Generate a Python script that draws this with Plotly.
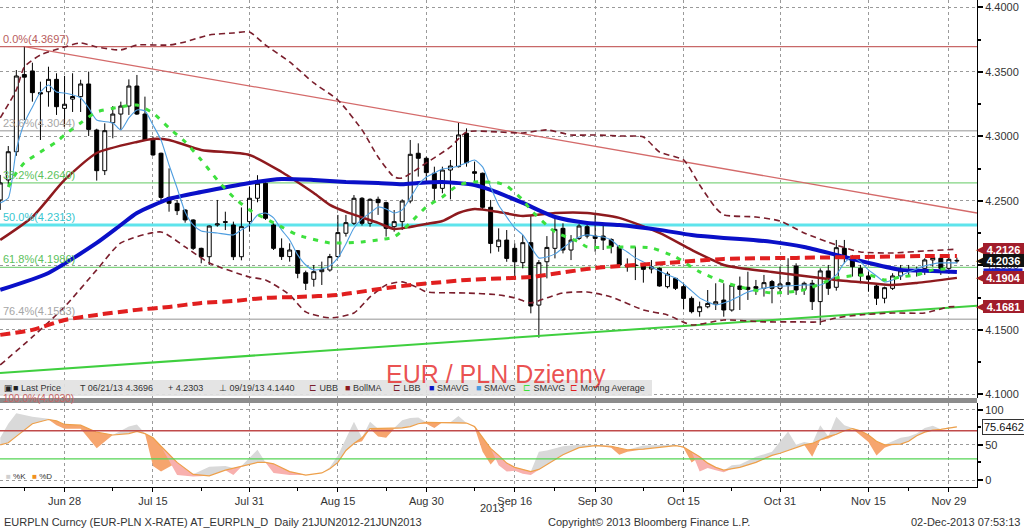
import numpy as np
import pandas as pd
import plotly.graph_objects as go

# ---------------- data ----------------
DATES = [d.strftime('%Y-%m-%d') for d in pd.bdate_range('2013-06-18', '2013-12-02')]

OPEN = [4.2508, 4.2663, 4.2882, 4.3480, 4.3508, 4.3340, 4.3347, 4.3443, 4.3218,
        4.3290, 4.3309, 4.3407, 4.3050, 4.2735, 4.3107, 4.3174, 4.3236, 4.3391, 4.3174,
        4.2973, 4.2870, 4.2528, 4.2482, 4.2430, 4.2353, 4.2133, 4.2068, 4.2314, 4.2340,
        4.2314, 4.2068, 4.2340, 4.2521, 4.2637, 4.2314, 4.2133, 4.2069, 4.2115, 4.1944,
        4.1893, 4.1952, 4.1965, 4.2069, 4.2250, 4.2327, 4.2521, 4.2327, 4.2513, 4.2487,
        4.2301, 4.2340, 4.2500, 4.2870, 4.2831, 4.2715, 4.2598, 4.2740, 4.2766, 4.3025,
        4.2727, 4.2715, 4.2451, 4.2146, 4.2197, 4.2133, 4.2022, 4.2177, 4.1693, 4.2029,
        4.2133, 4.2288, 4.2120, 4.2210, 4.2301, 4.2228, 4.2228, 4.2202, 4.2146, 4.1991,
        4.2004, 4.2004, 4.1973, 4.1978, 4.1836, 4.1900, 4.1836, 4.1745, 4.1642, 4.1680,
        4.1701, 4.1732, 4.1655, 4.1841, 4.1831, 4.1836, 4.1823, 4.1875, 4.1823, 4.1867,
        4.1996, 4.1815, 4.1862, 4.1720, 4.1958, 4.1831, 4.2133, 4.2056, 4.1978, 4.1919,
        4.1841, 4.1746, 4.1823, 4.1919, 4.1962, 4.1970, 4.1978, 4.2043, 4.2056, 4.1978,
        4.2040]
HIGH = [4.2702, 4.2926, 4.3515, 4.3697, 4.3572, 4.3425, 4.3541, 4.3490, 4.3470,
        4.3490, 4.3440, 4.3503, 4.3060, 4.3102, 4.3236, 4.3270, 4.3443, 4.3477, 4.3309,
        4.3000, 4.2875, 4.2753, 4.2508, 4.2435, 4.2358, 4.2138, 4.2310, 4.2508, 4.2417,
        4.2340, 4.2450, 4.2611, 4.2700, 4.2645, 4.2327, 4.2210, 4.2172, 4.2120, 4.1960,
        4.2004, 4.2030, 4.2090, 4.2392, 4.2392, 4.2546, 4.2530, 4.2520, 4.2534, 4.2495,
        4.2430, 4.2513, 4.2973, 4.2947, 4.2844, 4.2766, 4.2766, 4.2818, 4.3107, 4.3063,
        4.2805, 4.2720, 4.2508, 4.2288, 4.2275, 4.2172, 4.2236, 4.2391, 4.2042, 4.2228,
        4.2365, 4.2327, 4.2236, 4.2321, 4.2314, 4.2404, 4.2314, 4.2210, 4.2159, 4.2055,
        4.2146, 4.2017, 4.2042, 4.1985, 4.1952, 4.1905, 4.1860, 4.1760, 4.1720, 4.1810,
        4.1862, 4.1862, 4.1862, 4.1914, 4.1952, 4.1888, 4.1927, 4.1888, 4.1991, 4.2056,
        4.2017, 4.1875, 4.1888, 4.1978, 4.2004, 4.2198, 4.2198, 4.2082, 4.2004, 4.1952,
        4.1862, 4.1836, 4.1940, 4.2004, 4.2004, 4.1991, 4.2056, 4.2082, 4.2069, 4.2064,
        4.2061]
LOW = [4.2431, 4.2611, 4.2850, 4.3128, 4.3270, 4.2973, 4.3231, 4.3167, 4.3076,
       4.3190, 4.3190, 4.3004, 4.2658, 4.2701, 4.2986, 4.3050, 4.3167, 4.3167, 4.2970,
       4.2850, 4.2503, 4.2417, 4.2391, 4.2332, 4.2120, 4.2017, 4.2004, 4.2301, 4.2275,
       4.2042, 4.2040, 4.2262, 4.2490, 4.2353, 4.2120, 4.2043, 4.2030, 4.1901, 4.1810,
       4.1836, 4.1849, 4.1952, 4.2056, 4.2224, 4.2314, 4.2310, 4.2300, 4.2392, 4.2224,
       4.2262, 4.2275, 4.2482, 4.2689, 4.2650, 4.2495, 4.2560, 4.2513, 4.2760, 4.2766,
       4.2650, 4.2430, 4.2094, 4.2107, 4.2029, 4.1887, 4.1978, 4.1629, 4.1440, 4.1900,
       4.2055, 4.2094, 4.2042, 4.2197, 4.2210, 4.2107, 4.2120, 4.2094, 4.1991, 4.1952,
       4.1887, 4.1867, 4.1939, 4.1836, 4.1823, 4.1810, 4.1660, 4.1629, 4.1603, 4.1668,
       4.1655, 4.1603, 4.1642, 4.1655, 4.1733, 4.1772, 4.1759, 4.1707, 4.1785, 4.1772,
       4.1772, 4.1772, 4.1655, 4.1539, 4.1772, 4.1805, 4.2017, 4.1914, 4.1862, 4.1797,
       4.1694, 4.1707, 4.1810, 4.1888, 4.1927, 4.1914, 4.1927, 4.1991, 4.1927, 4.1935,
       4.2017]
CLOSE = [4.2640, 4.2882, 4.3469, 4.3460, 4.3340, 4.3330, 4.3443, 4.3231, 4.3250,
         4.3310, 4.3407, 4.3055, 4.2735, 4.3045, 4.3174, 4.3236, 4.3391, 4.3174, 4.2973,
         4.2857, 4.2528, 4.2482, 4.2425, 4.2353, 4.2133, 4.2068, 4.2306, 4.2322, 4.2335,
         4.2068, 4.2301, 4.2521, 4.2637, 4.2366, 4.2133, 4.2069, 4.2120, 4.1939, 4.1862,
         4.1952, 4.1970, 4.2069, 4.2255, 4.2332, 4.2521, 4.2327, 4.2513, 4.2487, 4.2288,
         4.2340, 4.2500, 4.2862, 4.2831, 4.2720, 4.2598, 4.2740, 4.2771, 4.3012, 4.2797,
         4.2715, 4.2451, 4.2171, 4.2197, 4.2055, 4.2029, 4.2177, 4.1686, 4.2022, 4.2140,
         4.2280, 4.2120, 4.2197, 4.2306, 4.2228, 4.2210, 4.2197, 4.2146, 4.2004, 4.2004,
         4.2000, 4.1970, 4.1990, 4.1841, 4.1934, 4.1823, 4.1745, 4.1642, 4.1680, 4.1706,
         4.1719, 4.1655, 4.1848, 4.1815, 4.1815, 4.1823, 4.1867, 4.1823, 4.1857, 4.1850,
         4.1810, 4.1862, 4.1720, 4.1958, 4.1823, 4.2138, 4.2069, 4.1991, 4.1919, 4.1893,
         4.1746, 4.1828, 4.1919, 4.1958, 4.1955, 4.1960, 4.2043, 4.2061, 4.1978, 4.2048,
         4.2036]

# studies: (trading-day index, value)
BLUE_IDX = [0, 6, 12, 15, 17, 21, 25, 31, 35, 39, 43, 47, 50, 52, 55, 59, 61, 65, 69, 73,
            77, 82, 86, 90, 92, 96, 100, 104, 108, 112, 116, 119]
BLUE_VAL = [4.1811, 4.1942, 4.2175, 4.2314, 4.2407, 4.2516, 4.2570, 4.2640, 4.2671, 4.2663,
            4.2648, 4.2640, 4.2630, 4.2640, 4.2648, 4.2624, 4.2586, 4.2485, 4.2376, 4.2330,
            4.2314, 4.2276, 4.2237, 4.2214, 4.2206, 4.2183, 4.2144, 4.2082, 4.2020, 4.1966,
            4.1958, 4.1950]
BOLL_IDX = [0, 4, 8, 12, 17, 19, 21, 25, 31, 35, 36, 39, 41, 43, 47, 49, 51, 53, 55, 57,
            59, 62, 65, 69, 73, 77, 82, 86, 90, 92, 96, 100, 104, 108, 111, 114, 119]
BOLL_VAL = [4.2198, 4.2376, 4.2663, 4.2872, 4.2958, 4.2981, 4.2973, 4.2896, 4.2857, 4.2725,
            4.2686, 4.2562, 4.2470, 4.2415, 4.2330, 4.2283, 4.2299, 4.2322, 4.2345, 4.2407,
            4.2438, 4.2415, 4.2384, 4.2407, 4.2407, 4.2369, 4.2252, 4.2121, 4.2004, 4.1981,
            4.1950, 4.1919, 4.1888, 4.1865, 4.1849, 4.1865, 4.1904]
UBB_IDX = [0, 2, 3, 5, 8, 10, 12, 15, 17, 21, 23, 26, 29, 31, 33, 36, 39, 42, 45, 47,
           49, 50, 53, 56, 58, 62, 65, 68, 71, 74, 77, 80, 82, 85, 87, 89, 90, 94, 97, 100,
           104, 107, 111, 115, 119]
UBB_VAL = [4.3144, 4.3361, 4.3539, 4.3632, 4.3694, 4.3725, 4.3694, 4.3671, 4.3709, 4.3709,
           4.3733, 4.3787, 4.3802, 4.3810, 4.3709, 4.3578, 4.3415, 4.3283, 4.3051, 4.2841,
           4.2686, 4.2678, 4.2795, 4.2919, 4.3035, 4.3035, 4.3027, 4.3051, 4.3012, 4.3012,
           4.3004, 4.2996, 4.2880, 4.2818, 4.2624, 4.2446, 4.2392, 4.2376, 4.2345, 4.2252,
           4.2159, 4.2105, 4.2097, 4.2113, 4.2126]
LBB_IDX = [0, 4, 8, 12, 15, 20, 23, 26, 31, 33, 36, 38, 41, 44, 46, 48, 50, 52, 53, 58,
           62, 64, 66, 68, 70, 73, 76, 80, 83, 86, 90, 95, 99, 102, 104, 107, 111, 115, 118, 119]
LBB_VAL = [4.1229, 4.1446, 4.1679, 4.1966, 4.2175, 4.2260, 4.2144, 4.2020, 4.1911, 4.1888,
           4.1772, 4.1640, 4.1594, 4.1632, 4.1756, 4.1849, 4.1873, 4.1826, 4.1795, 4.1787,
           4.1772, 4.1749, 4.1710, 4.1749, 4.1787, 4.1795, 4.1756, 4.1655, 4.1617, 4.1539,
           4.1578, 4.1563, 4.1563, 4.1563, 4.1594, 4.1617, 4.1632, 4.1632, 4.1679, 4.1681]
MA_IDX = [0, 4, 8, 12, 17, 21, 25, 29, 33, 37, 42, 49, 58, 66, 74, 83, 90, 99, 107, 115, 119]
MA_VAL = [4.1462, 4.1501, 4.1578, 4.1617, 4.1656, 4.1679, 4.1710, 4.1725, 4.1749, 4.1756,
          4.1772, 4.1834, 4.1888, 4.1911, 4.1981, 4.2020, 4.2051, 4.2059, 4.2066, 4.2074, 4.2074]
GREEN_IDX = [1, 2, 3, 5, 7, 8, 10, 12, 15, 17, 19, 21, 23, 25, 27, 29, 31, 35, 37, 41,
             45, 47, 49, 51, 53, 55, 57, 59, 62, 63, 65, 66, 69, 72, 73, 77, 81, 84, 87, 90,
             92, 96, 100, 104, 108, 110, 112, 114, 116, 118]
GREEN_VAL = [4.2609, 4.2717, 4.2795, 4.2880, 4.2958, 4.3012, 4.3105, 4.3190, 4.3229, 4.3244,
             4.3182, 4.3066, 4.2958, 4.2818, 4.2663, 4.2531, 4.2431, 4.2299, 4.2237, 4.2175,
             4.2183, 4.2198, 4.2221, 4.2330, 4.2454, 4.2531, 4.2624, 4.2648, 4.2640, 4.2617,
             4.2508, 4.2431, 4.2260, 4.2183, 4.2144, 4.2144, 4.2136, 4.2066, 4.1950, 4.1873,
             4.1834, 4.1787, 4.1811, 4.1903, 4.1927, 4.1888, 4.1911, 4.1927, 4.1966, 4.1973]
LB_IDX = [0, 1, 2, 3, 4, 5, 6, 7, 8, 10, 11, 12, 14, 15, 16, 17, 18, 19, 20, 21,
          22, 23, 24, 25, 27, 29, 30, 31, 32, 33, 34, 35, 36, 37, 38, 39, 40, 41, 42, 43,
          44, 45, 46, 47, 48, 49, 50, 51, 52, 53, 54, 55, 56, 57, 58, 59, 60, 61, 62, 63,
          64, 65, 66, 67, 68, 69, 70, 71, 72, 73, 74, 75, 76, 77, 78, 79, 80, 81, 82, 83,
          84, 85, 86, 87, 88, 89, 90, 91, 92, 93, 94, 96, 98, 100, 102, 103, 104, 105, 106, 107,
          108, 109, 110, 111, 112, 113, 114, 115, 116, 117, 118, 119]
LB_VAL = [4.2485, 4.2523, 4.2896, 4.3105, 4.3229, 4.3345, 4.3399, 4.3345, 4.3337, 4.3299,
          4.3221, 4.3128, 4.3105, 4.3051, 4.3144, 4.3206, 4.3198, 4.3089, 4.2973, 4.2779,
          4.2601, 4.2415, 4.2314, 4.2268, 4.2252, 4.2237, 4.2276, 4.2314, 4.2392, 4.2407,
          4.2369, 4.2276, 4.2198, 4.2082, 4.2004, 4.1966, 4.1973, 4.1997, 4.2059, 4.2167,
          4.2291, 4.2361, 4.2407, 4.2454, 4.2438, 4.2407, 4.2431, 4.2523, 4.2624, 4.2686,
          4.2717, 4.2748, 4.2756, 4.2771, 4.2795, 4.2818, 4.2764, 4.2609, 4.2469, 4.2376,
          4.2291, 4.2237, 4.2144, 4.2059, 4.2066, 4.2090, 4.2136, 4.2183, 4.2221, 4.2237,
          4.2229, 4.2221, 4.2198, 4.2144, 4.2105, 4.2059, 4.2028, 4.1989, 4.1958, 4.1927,
          4.1903, 4.1857, 4.1803, 4.1749, 4.1718, 4.1694, 4.1710, 4.1733, 4.1764, 4.1795,
          4.1811, 4.1834, 4.1842, 4.1849, 4.1849, 4.1880, 4.1927, 4.2020, 4.2066, 4.2028,
          4.1966, 4.1919, 4.1873, 4.1888, 4.1919, 4.1950, 4.1973, 4.1997, 4.2012, 4.2020,
          4.2020, 4.2020]

# trend lines (index, value)
TREND_DOWN_IDX = [3, 121.5]
TREND_DOWN_VAL = [4.3697, 4.2407]
TREND_UP_IDX = [-0.03, 121.5]
TREND_UP_VAL = [4.1167, 4.1687]

# fibonacci retracement
FIB_PCT = ['0.0%', '23.6%', '38.2%', '50.0%', '61.8%', '76.4%', '100.0%']
FIB_LEVEL = [4.3697, 4.3044, 4.2640, 4.2313, 4.1986, 4.1583, 4.0930]

# stochastics
STO_IDX = [0, 1, 2, 4, 6, 7, 8, 10, 12, 14, 16, 17, 18, 19, 20, 22, 24, 26, 28, 29,
           30, 32, 33, 34, 36, 38, 40, 41, 42, 43, 44, 45, 46, 47, 48, 49, 50, 51, 52, 53,
           54, 55, 56, 57, 58, 59, 60, 61, 62, 63, 64, 65, 66, 67, 68, 70, 72, 74, 76, 77,
           78, 80, 82, 84, 85, 86, 87, 88, 89, 90, 91, 92, 94, 96, 97, 98, 99, 100, 101, 102,
           103, 104, 105, 106, 107, 108, 109, 110, 111, 112, 113, 114, 115, 116, 117, 118, 119]
STO_K = [60, 80, 95, 90, 87, 78, 73, 73, 45, 64, 76, 79, 66, 20, 12, 7, 5, 19, 20, 7,
         19, 43, 25, 10, 7, 7, 10, 18, 35, 60, 83, 55, 83, 62, 60, 74, 85, 88, 89, 80,
         74, 82, 82, 91, 81, 75, 40, 22, 21, 12, 13, 9, 7, 40, 42, 48, 50, 50, 46, 36,
         40, 49, 50, 50, 46, 25, 12, 17, 14, 11, 21, 22, 33, 40, 55, 69, 50, 54, 33, 78,
         59, 90, 78, 74, 64, 54, 35, 46, 55, 60, 62, 66, 74, 77, 72, 75, 76]
STO_D = [50, 53, 62, 80, 86, 84, 79, 78, 68, 64, 66, 69, 66, 60, 48, 25, 8, 6, 14, 17,
         20, 25, 25, 23, 12, 7, 10, 16, 25, 42, 52, 60, 73, 73, 73, 73, 74, 76, 80, 82,
         82, 82, 82, 82, 81, 76, 60, 45, 35, 24, 18, 15, 12, 15, 22, 36, 46, 49, 48, 45,
         43, 44, 47, 49, 47, 40, 33, 24, 18, 14, 16, 18, 25, 35, 38, 42, 47, 50, 52, 57,
         62, 65, 70, 73, 70, 64, 55, 50, 50, 51, 55, 63, 68, 71, 72, 74, 75.6462]

TICK_DATES = ['2013-06-28', '2013-07-15', '2013-07-31', '2013-08-15', '2013-08-30', '2013-09-16',
              '2013-09-30', '2013-10-15', '2013-10-31', '2013-11-15', '2013-11-29']
TICK_TEXT = ['Jun 28', 'Jul 15', 'Jul 31', 'Aug 15', 'Aug 30', 'Sep 16',
             'Sep 30', 'Oct 15', 'Oct 31', 'Nov 15', 'Nov 29']
MINOR_DATES = ['2013-06-21', '2013-07-08', '2013-07-23', '2013-08-08', '2013-08-23', '2013-09-09',
               '2013-09-23', '2013-10-08', '2013-10-23', '2013-11-07', '2013-11-22']
PRICE_TICKS = [4.10, 4.15, 4.20, 4.25, 4.30, 4.35, 4.40]

# ---------------- layout helpers ----------------
W, H = 1024, 530
ML, MR, MT, MB = 0, 47, 0, 43
PW, PH = W - ML - MR, H - MT - MB


def py(ypx):
    return (PH - (ypx - MT)) / PH


def pxp(xpx):
    return (xpx - ML) / PW


pos = {d: i for i, d in enumerate(DATES)}
X = list(range(len(DATES)))
TICK_IDX = [pos[d] for d in TICK_DATES]
MINOR_IDX = [pos[d] for d in MINOR_DATES]
FONT = 'Liberation Sans, Arial, sans-serif'

fig = go.Figure()

# trend lines
fig.add_trace(go.Scatter(x=TREND_UP_IDX, y=TREND_UP_VAL, mode='lines',
                         line=dict(color='#3fcf3f', width=2), hoverinfo='skip', showlegend=False))
fig.add_trace(go.Scatter(x=TREND_DOWN_IDX, y=TREND_DOWN_VAL, mode='lines',
                         line=dict(color='#d46a6a', width=1.3), hoverinfo='skip', showlegend=False))

# candles
fig.add_trace(go.Candlestick(
    x=X, open=OPEN, high=HIGH, low=LOW, close=CLOSE,
    increasing=dict(line=dict(color='black', width=1), fillcolor='white'),
    decreasing=dict(line=dict(color='black', width=1), fillcolor='black'),
    whiskerwidth=0, hoverinfo='skip', showlegend=False))


def study(idx, val, color, width, dash='solid'):
    fig.add_trace(go.Scatter(x=idx, y=val, mode='lines',
                             line=dict(color=color, width=width, dash=dash, shape='spline', smoothing=0.6),
                             hoverinfo='skip', showlegend=False))


study(UBB_IDX, UBB_VAL, '#7a1e2c', 1.6, '6px,4px')
study(LBB_IDX, LBB_VAL, '#7a1e2c', 1.6, '6px,4px')
study(BOLL_IDX, BOLL_VAL, '#8e1a1e', 2.5)
study(BLUE_IDX, BLUE_VAL, '#0a10c8', 4)
study(LB_IDX, LB_VAL, '#4f9ee0', 1.1)
study(GREEN_IDX, GREEN_VAL, '#3ee03e', 3, '5px,7px')
study(MA_IDX, MA_VAL, '#e11f1f', 4, '10px,5px')

# stochastics panel
K = np.array(STO_K, dtype=float)
D = np.array(STO_D, dtype=float)
upper = np.maximum(K, D)
lower = np.minimum(K, D)
low_orange = np.where(D >= 40, lower, D)
low_pink = np.where(D < 40, lower, D)
for series, col in [(upper, '#d9d9d9'), (low_orange, '#f6a56e'), (low_pink, '#f8b0ae')]:
    fig.add_trace(go.Scatter(x=STO_IDX, y=D, mode='lines', line=dict(width=0), xaxis='x2', yaxis='y2',
                             hoverinfo='skip', showlegend=False))
    fig.add_trace(go.Scatter(x=STO_IDX, y=series, mode='lines', line=dict(width=0), fill='tonexty',
                             fillcolor=col, xaxis='x2', yaxis='y2', hoverinfo='skip', showlegend=False))
fig.add_trace(go.Scatter(x=STO_IDX, y=D, mode='lines', line=dict(color='#eea04a', width=1.2),
                         xaxis='x2', yaxis='y2', hoverinfo='skip', showlegend=False))

shapes = []
# fibonacci lines
FIB_LINE_COL = ['#c86868', '#b8b8b8', '#82d482', '#5ee4ec', '#82d482', '#b8b8b8', '#c86868']
FIB_LINE_W = [1.2, 1.5, 1.2, 3, 1.2, 1.5, 1.2]
FIB_TXT_COL = ['#b85c5c', '#a6a6a6', '#5cc25c', '#38c6d0', '#5cc25c', '#a6a6a6', '#c86464']
for lvl, c, w in zip(FIB_LEVEL[:-1], FIB_LINE_COL[:-1], FIB_LINE_W[:-1]):
    shapes.append(dict(type='line', xref='x', yref='y', x0=-0.03, x1=121.5, y0=lvl, y1=lvl,
                       line=dict(color=c, width=w), layer='between'))
# stochastic levels
shapes.append(dict(type='line', xref='x2', yref='y2', x0=-0.03, x1=121.5, y0=70, y1=70,
                   line=dict(color='#c04a4a', width=1.3), layer='above'))
shapes.append(dict(type='line', xref='x2', yref='y2', x0=-0.03, x1=121.5, y0=30, y1=30,
                   line=dict(color='#55d455', width=1.3), layer='above'))
# separator bar
shapes.append(dict(type='rect', xref='paper', yref='paper', x0=0, x1=1, y0=py(403), y1=py(398),
                   fillcolor='#8c8c8c', line=dict(width=0), layer='above'))
# legend band
shapes.append(dict(type='rect', xref='paper', yref='paper', x0=0, x1=pxp(652), y0=py(396), y1=py(380),
                   fillcolor='rgba(226,226,226,0.92)', line=dict(width=0), layer='above'))

ann = []
# fib labels
for pct, lvl, c in zip(FIB_PCT[:-1], FIB_LEVEL[:-1], FIB_TXT_COL[:-1]):
    ann.append(dict(text=f'{pct}({lvl:.4f})', xref='paper', x=pxp(1), xanchor='left',
                    yref='y', y=lvl, yanchor='bottom', showarrow=False,
                    font=dict(size=11, color=c, family=FONT)))
ann.append(dict(text=f'{FIB_PCT[-1]}({FIB_LEVEL[-1]:.4f})', xref='paper', x=pxp(1), xanchor='left',
                yref='paper', y=py(398), yanchor='middle', showarrow=False,
                font=dict(size=10, color=FIB_TXT_COL[-1], family=FONT)))

# title
ann.append(dict(text='EUR / PLN Dzienny', xref='paper', yref='paper', x=pxp(496), y=py(374),
                xanchor='center', yanchor='middle', showarrow=False,
                font=dict(size=25, color='rgba(232,58,58,0.88)', family=FONT)))

# legend row: (x, icon, icon colour, label)
LEG = [(3, '▣■', '#222', 'Last Price'),
       (79, 'T', '#333', '06/21/13 4.3696'),
       (167, '+', '#333', '4.2303'),
       (218, '⊥', '#333', '09/19/13 4.1440'),
       (308, '⊏', '#7a1e2c', 'UBB'),
       (344, '■', '#8e1a1e', 'BollMA'),
       (392, '⊏', '#7a1e2c', 'LBB'),
       (428, '■', '#0a10c8', 'SMAVG'),
       (475, '■', '#4f9ee0', 'SMAVG'),
       (522, '⊏', '#3ee03e', 'SMAVG'),
       (569, '⊏', '#e11f1f', 'Moving Average')]
for xp, icon, c, label in LEG:
    ann.append(dict(text=f'<span style="color:{c}">{icon}</span> {label}', xref='paper', yref='paper',
                    x=pxp(xp), y=py(388), xanchor='left', yanchor='middle', showarrow=False,
                    borderpad=0, font=dict(size=9, color='#333', family=FONT)))

# stochastic legend
ann.append(dict(text='<span style="color:#d0d0d0">■</span> %K \u00a0 <span style="color:#f0901e">■</span> %D',
                xref='paper', yref='paper', x=pxp(5), y=py(476), xanchor='left', yanchor='middle',
                showarrow=False, borderpad=0, font=dict(size=8, color='#333', family=FONT)))

# right-hand value boxes (blue SMAVG box is mostly hidden behind the others)
ann.append(dict(text='\u00a0', xref='paper', x=pxp(983), xanchor='left', yref='y', y=4.1958,
                yanchor='middle', showarrow=False, bgcolor='#1a22cc', borderpad=0,
                width=38, height=4, font=dict(size=2, color='#1a22cc')))
LABELS = [(4.2126, '#a11d2b'), (4.2036, '#111111'), (4.1904, '#a11d2b'), (4.1681, '#a11d2b')]
for v, bg in LABELS:
    ann.append(dict(text='◀', xref='paper', x=pxp(975), xanchor='left', yref='y', y=v,
                    yanchor='middle', showarrow=False, borderpad=0,
                    font=dict(size=11, color=bg, family='DejaVu Sans')))
    ann.append(dict(text=f'<b>{v:.4f}</b>', xref='paper', x=pxp(983), xanchor='left', yref='y', y=v,
                    yanchor='middle', showarrow=False, bgcolor=bg, bordercolor=bg, borderpad=0,
                    width=39, height=11, font=dict(size=11, color='white', family=FONT)))
ann.append(dict(text=f'{STO_D[-1]:.4f}', xref='paper', x=pxp(982), xanchor='left', yref='y2', y=STO_D[-1],
                yanchor='middle', showarrow=False, bgcolor='white', bordercolor='#333', borderwidth=1,
                borderpad=1, font=dict(size=11, color='#111', family=FONT)))

# footer texts
ann.append(dict(text='2013', xref='paper', yref='paper', x=pxp(492), y=py(508), xanchor='center',
                yanchor='middle', showarrow=False, font=dict(size=11, color='#333', family=FONT)))
ann.append(dict(text='EURPLN Curncy (EUR-PLN X-RATE) AT_EURPLN_D \u00a0Daily 21JUN2012-21JUN2013',
                xref='paper', yref='paper', x=pxp(2), y=py(522), xanchor='left', yanchor='middle',
                showarrow=False, font=dict(size=11, color='#333', family=FONT)))
ann.append(dict(text='Copyright© 2013 Bloomberg Finance L.P.', xref='paper', yref='paper',
                x=pxp(649), y=py(522), xanchor='center', yanchor='middle', showarrow=False,
                font=dict(size=11, color='#333', family=FONT)))
ann.append(dict(text='02-Dec-2013 07:53:13', xref='paper', yref='paper', x=pxp(1022), y=py(522),
                xanchor='right', yanchor='middle', showarrow=False,
                font=dict(size=11, color='#333', family=FONT)))

grid = dict(showgrid=True, gridcolor='#9a9a9a', griddash='dot', gridwidth=1, zeroline=False)
XR = [-0.03, 121.5]

fig.update_layout(
    width=W, height=H, margin=dict(l=ML, r=MR, t=MT, b=MB, pad=0),
    paper_bgcolor='white', plot_bgcolor='white', showlegend=False,
    font=dict(family=FONT, size=11, color='#333'),
    xaxis=dict(domain=[0, 1], anchor='y', range=XR, tickmode='array', tickvals=TICK_IDX,
               showticklabels=False, ticks='', rangeslider=dict(visible=False), fixedrange=True, **grid),
    xaxis2=dict(domain=[0, 1], anchor='y2', matches='x', range=XR, tickmode='array', tickvals=TICK_IDX,
                ticktext=TICK_TEXT, ticks='outside', ticklen=4, tickcolor='black', showline=True,
                linecolor='black', linewidth=1, tickfont=dict(size=11, color='#333'),
                minor=dict(tickmode='array', tickvals=MINOR_IDX, ticks='outside', ticklen=3,
                           tickcolor='black', showgrid=False), fixedrange=True, **grid),
    yaxis=dict(domain=[py(398), 1], anchor='x', side='right', range=[4.09728, 4.40581],
               tickmode='array', tickvals=PRICE_TICKS, ticktext=[f'{v:.4f}' for v in PRICE_TICKS],
               ticks='outside', ticklen=5, tickwidth=2, tickcolor='black', showline=True,
               linecolor='black', linewidth=1, tickfont=dict(size=11, color='#333'),
               minor=dict(tickmode='array', tickvals=[4.125, 4.175, 4.225, 4.275, 4.325, 4.375],
                          ticks='outside', ticklen=3, tickcolor='black', showgrid=False),
               fixedrange=True, **grid),
    yaxis2=dict(domain=[0, py(403)], anchor='x2', side='right', range=[-9.96, 109.5],
                tickmode='array', tickvals=[0, 50, 100], ticks='outside', ticklen=5, tickwidth=2,
                tickcolor='black', showline=True, linecolor='black', linewidth=1,
                tickfont=dict(size=11, color='#333'),
                minor=dict(tickmode='array', tickvals=[25, 75], ticks='outside', ticklen=3,
                           tickcolor='black', showgrid=False),
                fixedrange=True, **grid),
    shapes=shapes, annotations=ann,
)

fig.write_html('out.html', config={'displayModeBar': False},
               post_script="document.body.style.margin='0px';document.body.style.overflow='hidden';")
